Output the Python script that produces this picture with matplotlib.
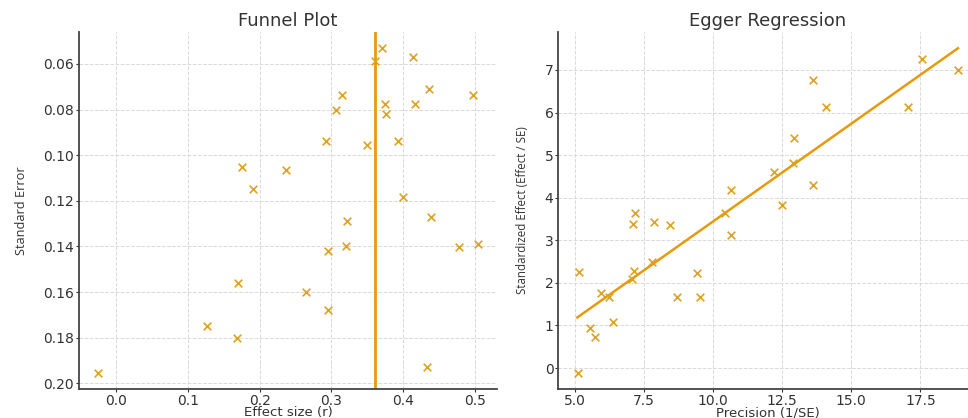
import numpy as np
import matplotlib
matplotlib.use("Agg")
import matplotlib.pyplot as plt

# ---- data ----
# funnel plot: effect size r and its standard error
effect_r = [0.371, 0.360, 0.413, 0.315, 0.436, 0.497, 0.306, 0.374, 0.417, 0.376,
            0.293, 0.349, 0.392, 0.175, 0.237, 0.191, 0.399, 0.438, 0.322, 0.295,
            0.320, 0.477, 0.504, 0.170, 0.264, 0.295, 0.127, 0.169, -0.025, 0.433]
std_err = [0.0531, 0.0587, 0.0571, 0.0736, 0.0711, 0.0736, 0.0800, 0.0775, 0.0775, 0.0819,
           0.0938, 0.0957, 0.0939, 0.1050, 0.1065, 0.1148, 0.1185, 0.1272, 0.1287, 0.1419,
           0.1398, 0.1401, 0.1391, 0.1562, 0.1599, 0.1679, 0.1749, 0.1800, 0.1954, 0.1928]
pooled_r = 0.36

# egger regression: precision vs standardized effect
precision = [17.56, 18.86, 13.62, 14.08, 17.04, 12.93, 12.90, 12.21, 13.62, 10.64,
             12.51, 10.43, 10.64, 7.17, 7.10, 7.86, 8.44, 7.78, 7.14, 7.05,
             9.41, 5.15, 5.93, 6.23, 8.71, 9.53, 6.39, 5.53, 5.71, 5.11]
std_effect = [7.26, 6.99, 6.76, 6.14, 6.12, 5.40, 4.81, 4.60, 4.30, 4.18,
              3.83, 3.65, 3.13, 3.64, 3.38, 3.44, 3.36, 2.50, 2.28, 2.09,
              2.24, 2.25, 1.77, 1.68, 1.66, 1.66, 1.09, 0.94, 0.74, -0.11]
fit_x = [5.09, 18.86]
fit_y = [1.19, 7.51]

marker_col = "#DDA21F"
line_col = "#E69A0C"

plt.rcParams["font.family"] = "DejaVu Sans"

def style_axes(ax):
    for s in ["top", "right"]:
        ax.spines[s].set_visible(False)
    for s in ["left", "bottom"]:
        ax.spines[s].set_color("#444444")
        ax.spines[s].set_linewidth(1.3)
    ax.grid(True, color="#d9d9d9", linewidth=0.7, linestyle="--")
    ax.set_axisbelow(True)
    ax.tick_params(labelsize=10, length=2.5, pad=1, colors="#333333",
                   labelcolor="#333333")

fig = plt.figure(figsize=(9.68, 4.18), dpi=100)
ax1 = fig.add_axes([0.0816, 0.0694, 0.4318, 0.854])
ax2 = fig.add_axes([0.5768, 0.0694, 0.4325, 0.854])

# funnel plot
ax1.scatter(effect_r, std_err, marker="x", s=30, color=marker_col, linewidths=1.2, zorder=3)
ax1.axvline(pooled_r, color=line_col, linewidth=2, zorder=2)
ax1.invert_yaxis()
ax1.set_title("Funnel Plot", fontsize=13, pad=4, color="#333333")
ax1.set_xlabel("Effect size (r)", fontsize=9.5, labelpad=-1, color="#333333")
ax1.set_ylabel("Standard Error", fontsize=9.2, labelpad=11, color="#333333",
               family="Open Sans")
style_axes(ax1)

# egger regression
ax2.scatter(precision, std_effect, marker="x", s=30, color=marker_col, linewidths=1.2, zorder=3)
ax2.plot(fit_x, fit_y, color=line_col, linewidth=1.8, zorder=2)
ax2.set_xticks([5.0, 7.5, 10.0, 12.5, 15.0, 17.5])
ax2.set_title("Egger Regression", fontsize=13, pad=4, color="#333333")
ax2.set_xlabel("Precision (1/SE)", fontsize=9.5, labelpad=-1, color="#333333")
ax2.set_ylabel("Standardized Effect (Effect / SE)", fontsize=8.3, labelpad=11,
               color="#333333", family="Open Sans")
style_axes(ax2)

fig.savefig("out.png", dpi=100)
